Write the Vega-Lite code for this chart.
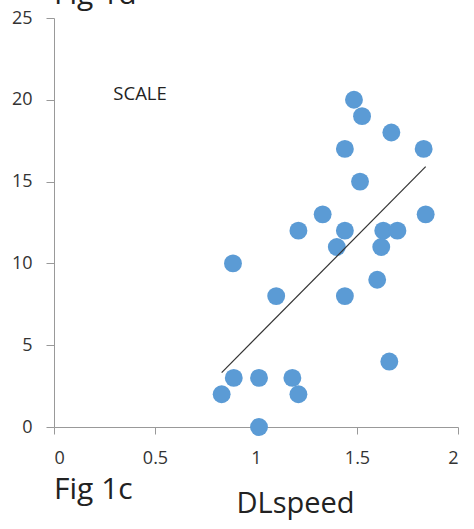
{
  "$schema": "https://vega.github.io/schema/vega-lite/v6.json",
  "autosize": {"type": "none"},
  "padding": {"left": 54, "top": 18, "right": 16, "bottom": 102},
  "width": 404,
  "height": 409,
  "background": "white",
  "config": {
    "view": {"stroke": null},
    "font": "Open Sans",
    "axis": {"grid": false}
  },
  "layer": [
    {
      "data": {
        "values": [
          {"DLspeed": 1.015, "SCALE": 0},
          {"DLspeed": 0.83, "SCALE": 2},
          {"DLspeed": 0.89, "SCALE": 3},
          {"DLspeed": 1.015, "SCALE": 3},
          {"DLspeed": 1.18, "SCALE": 3},
          {"DLspeed": 1.21, "SCALE": 2},
          {"DLspeed": 1.66, "SCALE": 4},
          {"DLspeed": 0.886, "SCALE": 10},
          {"DLspeed": 1.10, "SCALE": 8},
          {"DLspeed": 1.21, "SCALE": 12},
          {"DLspeed": 1.33, "SCALE": 13},
          {"DLspeed": 1.40, "SCALE": 11},
          {"DLspeed": 1.44, "SCALE": 12},
          {"DLspeed": 1.44, "SCALE": 8},
          {"DLspeed": 1.44, "SCALE": 17},
          {"DLspeed": 1.485, "SCALE": 20},
          {"DLspeed": 1.525, "SCALE": 19},
          {"DLspeed": 1.515, "SCALE": 15},
          {"DLspeed": 1.67, "SCALE": 18},
          {"DLspeed": 1.83, "SCALE": 17},
          {"DLspeed": 1.84, "SCALE": 13},
          {"DLspeed": 1.63, "SCALE": 12},
          {"DLspeed": 1.70, "SCALE": 12},
          {"DLspeed": 1.62, "SCALE": 11},
          {"DLspeed": 1.60, "SCALE": 9}
        ]
      },
      "layer": [
        {
          "mark": {"type": "point", "filled": true, "size": 320, "color": "#5B9BD5", "opacity": 1},
          "encoding": {
            "x": {
              "field": "DLspeed", "type": "quantitative",
              "scale": {"domain": [0, 2], "nice": false, "zero": true},
              "axis": {
                "values": [0, 0.5, 1, 1.5, 2],
                "labelExpr": "datum.value",
                "domainColor": "#999999", "tickColor": "#999999", "tickSize": 7,
                "labelFontSize": 18, "labelColor": "#333333", "labelPadding": 15,
                "title": "DLspeed", "titleFontSize": 29, "titleFontWeight": "normal", "titleColor": "#222222",
                "titleX": 241, "titleY": 85, "titleBaseline": "alphabetic", "titleAlign": "center"
              }
            },
            "y": {
              "field": "SCALE", "type": "quantitative",
              "scale": {"domain": [0, 25], "nice": false},
              "axis": {
                "values": [0, 5, 10, 15, 20, 25],
                "domainColor": "#999999", "tickColor": "#999999", "tickSize": 8,
                "labelFontSize": 18, "labelColor": "#333333", "labelPadding": 14,
                "title": null
              }
            }
          }
        },
        {
          "transform": [{"regression": "SCALE", "on": "DLspeed"}],
          "mark": {"type": "line", "color": "#333333", "strokeWidth": 1.2},
          "encoding": {
            "x": {"field": "DLspeed", "type": "quantitative"},
            "y": {"field": "SCALE", "type": "quantitative"}
          }
        }
      ]
    },
    {
      "data": {"values": [{"label": "SCALE"}]},
      "mark": {"type": "text", "fontSize": 18.5, "align": "center", "baseline": "alphabetic", "color": "#222222"},
      "encoding": {"x": {"datum": 0.426}, "y": {"datum": 20.0}, "text": {"field": "label"}}
    },
    {
      "data": {"values": [{"label": "Fig 1c"}]},
      "mark": {"type": "text", "fontSize": 30, "align": "left", "baseline": "alphabetic", "color": "#222222"},
      "encoding": {"x": {"datum": 0}, "y": {"datum": -4.4}, "text": {"field": "label"}}
    },
    {
      "data": {"values": [{"label": "Fig 1d"}]},
      "mark": {"type": "text", "fontSize": 30, "align": "left", "baseline": "alphabetic", "color": "#222222"},
      "encoding": {"x": {"datum": 0}, "y": {"datum": 25.86}, "text": {"field": "label"}}
    }
  ]
}
